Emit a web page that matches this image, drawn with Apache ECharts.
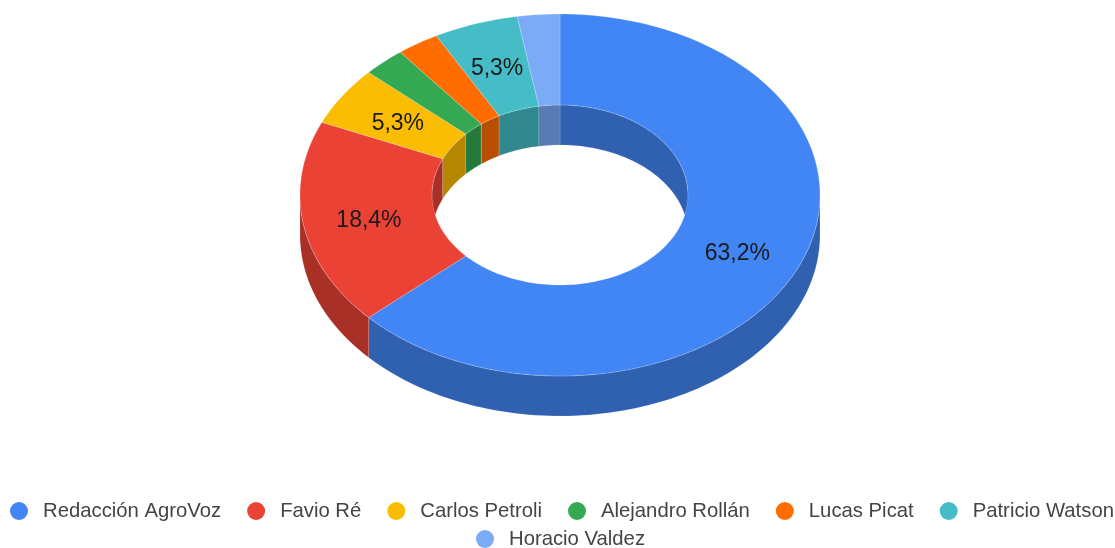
<!DOCTYPE html>
<html>
<head>
<meta charset="utf-8">
<style>html,body{margin:0;padding:0;background:#fff}#c{width:1115px;height:548px}</style>
<script src="https://cdn.jsdelivr.net/npm/echarts@6/dist/echarts.min.js"></script>
</head>
<body>
<div id="c"></div>
<script>
const names = ['Redacción AgroVoz','Favio Ré','Carlos Petroli','Alejandro Rollán','Lucas Picat','Patricio Watson','Horacio Valdez'];
const values = [24,7,2,1,1,2,1];
const labels = ['63,2%','18,4%','5,3%','','','5,3%',''];
const colors = ['#4285f4','#ea4335','#fbbc04','#34a853','#ff6d01','#46bdc6','#7baaf7'];
const cx = 560, cy = 195, rxO = 260, ryO = 181, rxI = 128, ryI = 90, depth = 40;
const total = values.reduce((a,b)=>a+b,0);
const starts = values.reduce((acc,v,i)=>{acc.push((i?acc[i-1]:0)+(i?values[i-1]:0)/total*360);return acc;},[]);
function pt(rx,ry,deg,dy){const t=deg*Math.PI/180;return [cx+rx*Math.sin(t),cy-ry*Math.cos(t)+(dy||0)];}
function arc(rx,ry,a,b,dy){const n=Math.max(2,Math.ceil(Math.abs(b-a)/1.5));const out=[];for(let k=0;k<=n;k++)out.push(pt(rx,ry,a+(b-a)*k/n,dy));return out;}
function shade(hex,f){const n=parseInt(hex.slice(1),16);return 'rgb('+[(n>>16)&255,(n>>8)&255,n&255].map(c=>Math.round(c*f)).join(',')+')';}
function wall(rx,ry,a,b,color){
  if(b<=a) return null;
  return {type:'polygon',shape:{points:arc(rx,ry,a,b,0).concat(arc(rx,ry,b,a,depth))},
    style:{fill:color,stroke:'rgba(255,255,255,0.15)',lineWidth:1}};
}
function renderWalls(params){
  const i=params.dataIndex,a=starts[i],b=a+values[i]/total*360,c=shade(colors[i],0.72),ch=[];
  const o=wall(rxO,ryO,Math.max(a,90),Math.min(b,270),c); if(o) ch.push(o);
  const i1=wall(rxI,ryI,Math.max(a,270),Math.min(b,360),c); if(i1) ch.push(i1);
  const i2=wall(rxI,ryI,Math.max(a,0),Math.min(b,90),c); if(i2) ch.push(i2);
  return {type:'group',children:ch};
}
function renderTop(i){
  return function(){
    const a=starts[i],b=a+values[i]/total*360,mid=(a+b)/2,ch=[{type:'polygon',
      shape:{points:arc(rxO,ryO,a,b,0).concat(arc(rxI,ryI,b,a,0))},
      style:{fill:colors[i],stroke:'rgba(255,255,255,0.2)',lineWidth:1}}];
    if(labels[i]){
      const t=mid*Math.PI/180;
      ch.push({type:'text',x:cx+rxO*0.745*Math.sin(t),y:cy-ryO*0.757*Math.cos(t)+3.5,z2:10,style:{text:labels[i],fill:'#1a1a1a',font:'23px "Liberation Sans"',align:'center',verticalAlign:'middle'}});
    }
    return {type:'group',children:ch};
  };
}
const legendBase={icon:'circle',itemWidth:18,itemHeight:18,itemGap:26,orient:'horizontal',selectedMode:false,padding:5,
  textStyle:{color:'#444444',fontFamily:'Liberation Sans',fontSize:20.3,padding:[0,0,0,10]}};
const series=[{type:'custom',name:'walls',z:1,silent:true,coordinateSystem:'none',data:values,renderItem:renderWalls}]
 .concat(names.map((n,i)=>({type:'custom',name:n,z:2,coordinateSystem:'none',silent:true,itemStyle:{color:colors[i]},data:[values[i]],renderItem:renderTop(i)})));
const chart=echarts.init(document.getElementById('c'),null,{renderer:'canvas'});
chart.setOption({animation:false,backgroundColor:'#fff',tooltip:{show:false},
  legend:[Object.assign({},legendBase,{left:5,top:496,width:1300,data:names.slice(0,6)}),
          Object.assign({},legendBase,{left:471,top:524,data:names.slice(6)})],
  series});
</script>
</body>
</html>
